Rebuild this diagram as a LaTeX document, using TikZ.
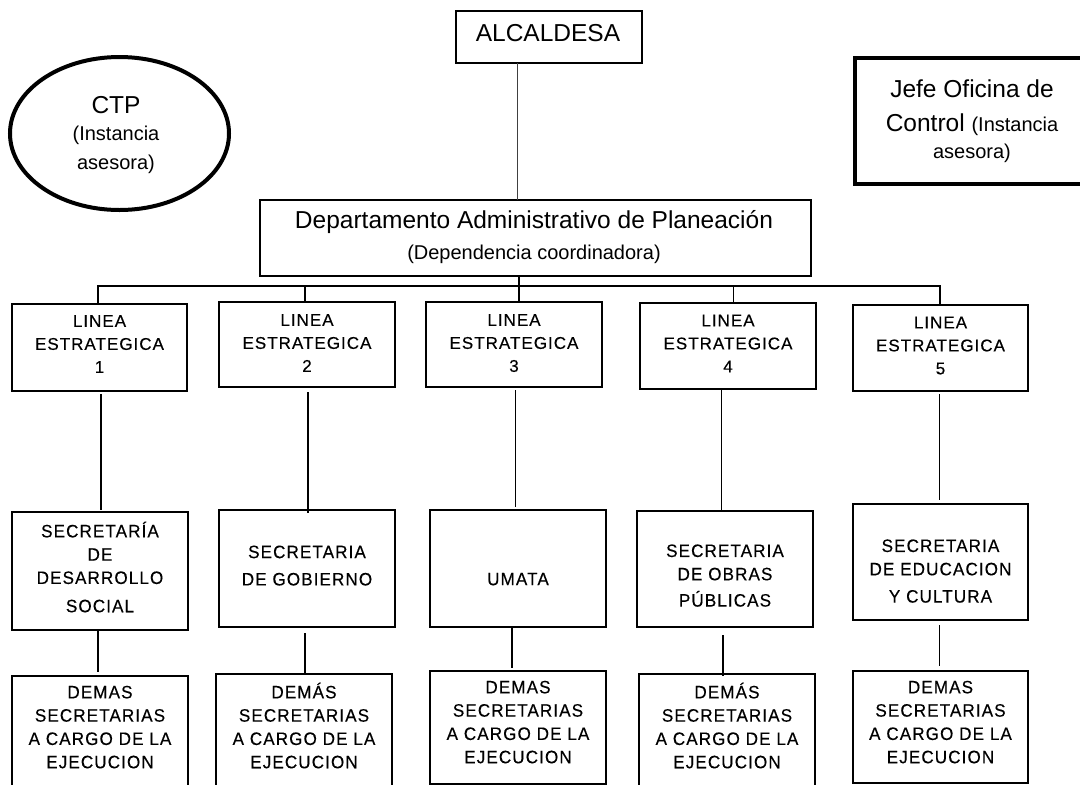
\documentclass[tikz,border=0pt]{standalone}
\usepackage{fontspec}
\usetikzlibrary{shapes.geometric}
\setmainfont{Liberation Sans}
\newfontfamily\spacedfont[LetterSpace=6,FakeBold=0.3]{Liberation Sans}
\newfontfamily\narrowfont[LetterSpace=6,FakeStretch=0.95,FakeBold=0.3]{Liberation Sans}
\begin{document}
\begin{tikzpicture}[x=1pt,y=-1pt,
  box/.style={draw, line width=1.2pt, inner sep=0pt, outer sep=0pt, anchor=north west},
  heavybox/.style={draw, line width=4pt, inner sep=0pt, outer sep=0pt, anchor=north west},
  lab/.style={inner sep=0pt, outer sep=0pt, align=center, text depth=0pt},
  lineatxt/.style={lab, font=\spacedfont\fontsize{17}{23}\selectfont},
  sectxt/.style={lab, font=\narrowfont\fontsize{18}{23.3}\selectfont},
  conn/.style={line width=1.2pt}
]
\useasboundingbox (0,0) rectangle (1080,785);
\fill[white] (0,0) rectangle (1080,785);
\clip (0,0) rectangle (1080,785);

% ---- top level
\node[box, minimum width=186pt, minimum height=52pt] (alc) at (456,11) {};
\node[lab, font=\fontsize{24.5}{28}\selectfont] (alct) at (548,33) {ALCALDESA};

\node[draw, ellipse, line width=4pt, inner sep=0pt, minimum width=219pt, minimum height=153pt] (ctp) at (119.5,133.5) {};
\node[lab, font=\fontsize{24.5}{26.4}\selectfont] (ctpt) at (116,133)
  {CTP\\{\fontsize{20}{24}\selectfont (Instancia}\\[3pt]{\fontsize{20}{24}\selectfont asesora)}};

\node[heavybox, minimum width=234pt, minimum height=126pt] (jefe) at (855,58) {};
\node[lab, font=\fontsize{24.5}{34}\selectfont] (jefet) at (972,119)
  {Jefe Oficina de\\Control {\fontsize{20}{24}\selectfont (Instancia}\\[-7.5pt]{\fontsize{20}{24}\selectfont asesora)}};

\node[box, minimum width=551pt, minimum height=76pt] (dep) at (260,200) {};
\node[lab, font=\fontsize{24.5}{30.5}\selectfont] (dept) at (534,235)
  {Departamento Administrativo de Planeación\\{\fontsize{20}{24}\selectfont (Dependencia coordinadora)}};

% ---- strategic lines
\node[box, minimum width=175pt, minimum height=87pt] (l1) at (12,304) {};
\node[box, minimum width=176pt, minimum height=85pt] (l2) at (219,302) {};
\node[box, minimum width=176pt, minimum height=85pt] (l3) at (426,302) {};
\node[box, minimum width=176pt, minimum height=86pt] (l4) at (640,303) {};
\node[box, minimum width=175pt, minimum height=86pt] (l5) at (853,305) {};
\node[lineatxt] (l1t) at (99.5,344) {LINEA\\ESTRATEGICA\\1};
\node[lineatxt] (l2t) at (307,343) {LINEA\\ESTRATEGICA\\2};
\node[lineatxt] (l3t) at (514,343) {LINEA\\ESTRATEGICA\\3};
\node[lineatxt] (l4t) at (728,343.5) {LINEA\\ESTRATEGICA\\4};
\node[lineatxt] (l5t) at (940.5,345.5) {LINEA\\ESTRATEGICA\\5};

% ---- secretarias
\node[box, minimum width=176pt, minimum height=118pt] (s1) at (12,512) {};
\node[box, minimum width=176pt, minimum height=117pt] (s2) at (219,510) {};
\node[box, minimum width=176pt, minimum height=117pt] (s3) at (430,510) {};
\node[box, minimum width=176pt, minimum height=116pt] (s4) at (637,511) {};
\node[box, minimum width=175pt, minimum height=116pt] (s5) at (853,504) {};
\node[sectxt] (s1t) at (100,567) {SECRETARÍA\\DE\\DESARROLLO\\[5pt]SOCIAL};
\node[sectxt] (s2t) at (307,565.5) {SECRETARIA\\[4pt]DE GOBIERNO};
\node[sectxt] (s3t) at (518,579) {UMATA};
\node[sectxt] (s4t) at (725,575.5) {SECRETARIA\\DE OBRAS\\[3pt]PÚBLICAS};
\node[sectxt] (s5t) at (940.5,571) {SECRETARIA\\DE EDUCACION\\[4pt]Y CULTURA};

% ---- demas secretarias
\node[box, minimum width=176pt, minimum height=130pt] (d1) at (12,676) {};
\node[box, minimum width=176pt, minimum height=130pt] (d2) at (216,674) {};
\node[box, minimum width=176pt, minimum height=113pt] (d3) at (430,671) {};
\node[box, minimum width=176pt, minimum height=130pt] (d4) at (639,674) {};
\node[box, minimum width=175pt, minimum height=112pt] (d5) at (853,671) {};
\node[sectxt] (d1t) at (100,727) {DEMAS\\SECRETARIAS\\A CARGO DE LA\\EJECUCION};
\node[sectxt] (d2t) at (304,725.5) {DEMÁS\\SECRETARIAS\\A CARGO DE LA\\EJECUCION};
\node[sectxt] (d3t) at (518,722) {DEMAS\\SECRETARIAS\\A CARGO DE LA\\EJECUCION};
\node[sectxt] (d4t) at (727,725.5) {DEMÁS\\SECRETARIAS\\A CARGO DE LA\\EJECUCION};
\node[sectxt] (d5t) at (940.5,722) {DEMAS\\SECRETARIAS\\A CARGO DE LA\\EJECUCION};

% ---- connector columns
\coordinate (ka) at (517,0);
\coordinate (kd) at (519,0);
\coordinate (bus) at (519,286);
\coordinate (t1) at (98,0);   \coordinate (t2) at (305,0);
\coordinate (t4) at (733.5,0); \coordinate (t5) at (940,0);
\coordinate (m1) at (101,0);  \coordinate (m2) at (308,0);  \coordinate (m3) at (515.5,0);
\coordinate (m4) at (721.5,0); \coordinate (m5) at (939.5,0);
\coordinate (b1) at (98,0);   \coordinate (b2) at (305,0);  \coordinate (b3) at (512,0);
\coordinate (b4) at (723,0);  \coordinate (b5) at (939.5,0);

\draw[conn, black!75, line width=1pt] (alc.south -| ka) -- (dep.north -| ka);
\draw[conn] (dep.south -| kd) -- (l3.north -| kd);
\draw[conn] (l1.north -| t1) |- (bus) -| (l5.north -| t5);
\draw[conn] (l2.north -| t2) -- (t2 |- bus);
\draw[conn] (l4.north -| t4) -- (t4 |- bus);

\draw[conn, shorten <=3pt, shorten >=2pt] (l1.south -| m1) -- (s1.north -| m1);
\draw[conn, shorten <=5pt, shorten >=-3pt] (l2.south -| m2) -- (s2.north -| m2);
\draw[conn, shorten <=3pt, shorten >=3pt] (l3.south -| m3) -- (s3.north -| m3);
\draw[conn, shorten >=1pt] (l4.south -| m4) -- (s4.north -| m4);
\draw[conn, shorten <=3pt, shorten >=4pt] (l5.south -| m5) -- (s5.north -| m5);

\draw[conn, shorten >=4pt] (s1.south -| b1) -- (d1.north -| b1);
\draw[conn, shorten <=6pt, shorten >=1pt] (s2.south -| b2) -- (d2.north -| b2);
\draw[conn, shorten >=3pt] (s3.south -| b3) -- (d3.north -| b3);
\draw[conn, shorten <=8pt, shorten >=-2pt] (s4.south -| b4) -- (d4.north -| b4);
\draw[conn, shorten <=5pt, shorten >=5pt] (s5.south -| b5) -- (d5.north -| b5);
\end{tikzpicture}
\end{document}
